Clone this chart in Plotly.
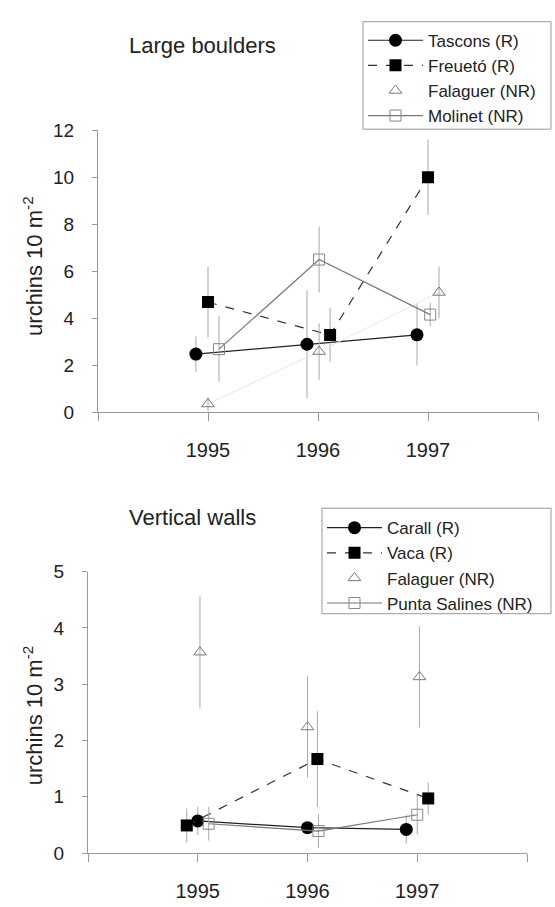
import plotly.graph_objects as go

years = [1995, 1996, 1997]
year_ticks = [1994, 1995, 1996, 1997, 1998]
year_labels = ["", "1995", "1996", "1997", ""]
y_title = "urchins 10 m<sup>-2</sup>"

# Large boulders
tascons = [2.48, 2.9, 3.3]
tascons_err = [0.75, 2.3, 1.3]
freueto = [4.69, 3.29, 10.0]
freueto_err = [1.5, 1.15, 1.6]
falaguer_lb = [0.36, 2.59, 5.1]
falaguer_lb_err = [0.3, 1.2, 1.1]
molinet = [2.69, 6.5, 4.16]
molinet_err = [1.4, 1.4, 0.5]

# Vertical walls
carall = [0.57, 0.45, 0.42]
carall_err = [0.25, 0.1, 0.25]
vaca = [0.49, 1.67, 0.97]
vaca_err = [0.3, 0.85, 0.28]
falaguer_vw = [3.57, 2.24, 3.13]
falaguer_vw_err = [1.0, 0.9, 0.9]
punta = [0.52, 0.39, 0.68]
punta_err = [0.3, 0.3, 0.35]

# horizontal offsets of each series (to avoid overlap, as in the original)
off_tascons = [-0.11, -0.1, -0.1]
off_freueto = [0.0, 0.11, 0.0]
off_fal_lb = [0.0, 0.01, 0.1]
off_molinet = [0.1, 0.01, 0.02]
off_carall = [0.0, 0.0, -0.1]
off_vaca = [-0.1, 0.09, 0.1]
off_fal_vw = [0.02, 0.0, 0.02]
off_punta = [0.1, 0.1, 0.0]

def xs(off):
    return [y + o for y, o in zip(years, off)]

ERR = "#a8a8a8"
FONT = "Liberation Sans, Arial, sans-serif"

fig = go.Figure()

def add(x, y, err, name, symbol, mcolor, msize, line, xa, ya, legend, showlegend=True, mode="lines+markers", mline=None):
    fig.add_trace(go.Scatter(
        x=x, y=y, name=name, mode=mode,
        error_y=dict(type="data", array=err, color=ERR, thickness=1, width=0),
        marker=dict(symbol=symbol, color=mcolor, size=msize,
                    line=mline or dict(width=0)),
        line=line, xaxis=xa, yaxis=ya, legend=legend, showlegend=showlegend,
    ))

# top panel
add(xs(off_tascons), tascons, tascons_err, "Tascons (R)", "circle", "black", 13,
    dict(color="#222", width=1.2), "x", "y", "legend")
add(xs(off_freueto), freueto, freueto_err, "Freuetó (R)", "square", "black", 12,
    dict(color="#333", width=1.2, dash="dash"), "x", "y", "legend")
fig.add_trace(go.Scatter(x=xs(off_fal_lb), y=falaguer_lb, mode="lines",
                         line=dict(color="#e6e6e6", width=1), xaxis="x", yaxis="y",
                         showlegend=False, hoverinfo="skip"))
add(xs(off_fal_lb), falaguer_lb, falaguer_lb_err, "Falaguer (NR)", "triangle-up-open", "#777", 11,
    None, "x", "y", "legend", mode="markers", mline=dict(width=1, color="#777"))
add(xs(off_molinet), molinet, molinet_err, "Molinet (NR)", "square-open", "#888", 11,
    dict(color="#777", width=1.2), "x", "y", "legend", mline=dict(width=1, color="#888"))

# bottom panel
add(xs(off_carall), carall, carall_err, "Carall (R)", "circle", "black", 13,
    dict(color="#222", width=1.2), "x2", "y2", "legend2")
add(xs(off_vaca), vaca, vaca_err, "Vaca (R)", "square", "black", 12,
    dict(color="#333", width=1.2, dash="dash"), "x2", "y2", "legend2")
add(xs(off_fal_vw), falaguer_vw, falaguer_vw_err, "Falaguer (NR)", "triangle-up-open", "#777", 11,
    None, "x2", "y2", "legend2", mode="markers", mline=dict(width=1, color="#777"))
add(xs(off_punta), punta, punta_err, "Punta Salines (NR)", "square-open", "#888", 11,
    dict(color="#777", width=1.2), "x2", "y2", "legend2", mline=dict(width=1, color="#888"))

H = 907.0
W = 555.0

def px(x):
    return x / W

def py(y):
    return 1 - y / H

xcommon = dict(range=[1994, 1998], tickvals=year_ticks, ticktext=year_labels,
               showgrid=False, zeroline=False, showline=True, linecolor="#999",
               linewidth=1, ticks="outside", ticklen=8, tickcolor="#999",
               ticklabelstandoff=12,
               tickfont=dict(size=20, color="#222", family=FONT))
ycommon = dict(showgrid=False, zeroline=False, showline=True, linecolor="#999",
               linewidth=1, ticks="outside", ticklen=5, tickcolor="#999",
               ticklabelstandoff=14,
               tickfont=dict(size=19, color="#222", family=FONT))

legend_common = dict(xanchor="left", yanchor="top", borderwidth=0,
                     bgcolor="rgba(255,255,255,0)", tracegroupgap=0, itemwidth=55,
                     font=dict(size=17, color="#222", family=FONT))

fig.update_layout(
    width=555, height=907,
    margin=dict(l=0, r=0, t=0, b=0),
    paper_bgcolor="white", plot_bgcolor="white",
    font=dict(family=FONT, color="#222"),
    xaxis=dict(domain=[px(98), px(538)], anchor="y", **xcommon),
    yaxis=dict(domain=[py(412), py(123)], anchor="x", range=[0, 12],
               tickvals=[0, 2, 4, 6, 8, 10, 12], **ycommon),
    xaxis2=dict(domain=[px(88), px(527)], anchor="y2", **xcommon),
    yaxis2=dict(domain=[py(863), py(575)], anchor="x2", range=[0, 5],
                tickvals=[0, 1, 2, 3, 4, 5], **ycommon),
    legend=dict(x=px(363), y=py(13), **legend_common),
    legend2=dict(x=px(322), y=py(512), **legend_common),
    shapes=[
        dict(type="rect", xref="paper", yref="paper", x0=px(363), x1=px(551),
             y0=py(122), y1=py(12), line=dict(color="#999", width=1), layer="below"),
        dict(type="rect", xref="paper", yref="paper", x0=px(322), x1=px(551),
             y0=py(618), y1=py(510), line=dict(color="#999", width=1), layer="below"),
    ],
    annotations=[
        dict(text="Large boulders", x=px(202), y=py(21), xref="paper", yref="paper",
             showarrow=False, font=dict(size=22, color="#222", family=FONT)),
        dict(text="Vertical walls", x=px(192), y=py(520), xref="paper", yref="paper",
             showarrow=False, font=dict(size=22, color="#222", family=FONT)),
        dict(text=y_title, x=px(33), y=py(262), xref="paper", yref="paper",
             xanchor="center", yanchor="middle",
             textangle=-90, showarrow=False, font=dict(size=22, color="#222", family=FONT)),
        dict(text=y_title, x=px(33), y=py(722), xref="paper", yref="paper",
             xanchor="center", yanchor="middle",
             textangle=-90, showarrow=False, font=dict(size=22, color="#222", family=FONT)),
    ],
)

fig.write_html("out.html")
